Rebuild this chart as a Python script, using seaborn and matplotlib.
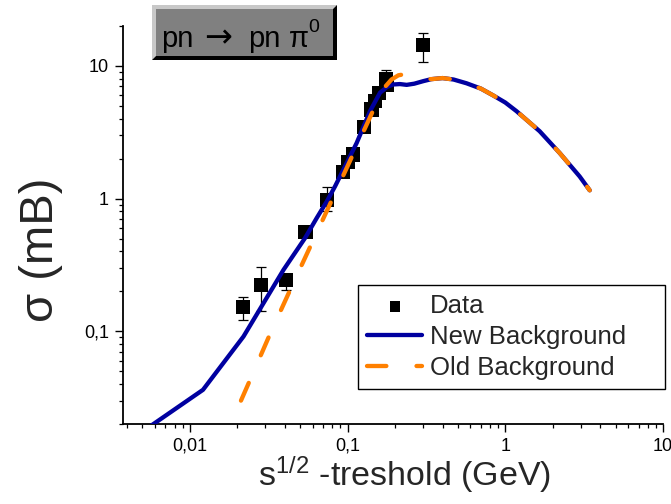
import numpy as np
import pandas as pd
import matplotlib
matplotlib.use("Agg")
import matplotlib.pyplot as plt
import seaborn as sns
from matplotlib.ticker import FixedLocator, LogLocator, FuncFormatter, NullFormatter
from matplotlib.patches import Polygon, Rectangle

# ---------------- data ----------------
data_x = [0.0218, 0.0284, 0.0408, 0.0541, 0.0738, 0.0941, 0.1007, 0.1088,
          0.1277, 0.142, 0.149, 0.159, 0.1745, 0.177, 0.302]
data_y = [0.153, 0.224, 0.242, 0.561, 0.98, 1.58, 1.90, 2.15,
          3.45, 4.70, 5.42, 6.28, 8.0, 7.25, 14.3]
err_up = [0.028, 0.081, 0.017, 0.0, 0.24, 0.0, 0.0, 0.0,
          0.0, 0.0, 0.0, 0.0, 1.3, 0.0, 3.5]
err_dn = [0.031, 0.081, 0.039, 0.0, 0.18, 0.0, 0.0, 0.0,
          0.0, 0.0, 0.0, 0.0, 1.0, 0.0, 3.5]

new_x = [0.0050, 0.01212, 0.0219, 0.0393, 0.0538, 0.0638, 0.0738, 0.0834,
         0.1143, 0.1388, 0.1606, 0.178, 0.195, 0.215, 0.237, 0.265, 0.302,
         0.34, 0.40, 0.47, 0.568, 0.70, 0.837, 1.0, 1.178, 1.652, 2.21,
         2.96, 3.43]
new_y = [0.0175, 0.0362, 0.0914, 0.291, 0.505, 0.715, 0.95, 1.24,
         2.63, 4.56, 6.28, 6.95, 7.25, 7.3, 7.2, 7.35, 7.68,
         7.95, 8.1, 7.9, 7.4, 6.75, 6.0, 5.3, 4.56, 3.22, 2.21,
         1.47, 1.155]

old_x = [0.0211, 0.0241, 0.0323, 0.0443, 0.0608, 0.0834, 0.1143, 0.153,
         0.17, 0.19, 0.21, 0.235, 0.26, 0.29, 0.34, 0.40, 0.47, 0.568,
         0.70, 0.837, 1.0, 1.178, 1.652, 2.21, 2.96, 3.43]
old_y = [0.030, 0.043, 0.0957, 0.218, 0.49, 1.10, 2.48, 5.28,
         6.8, 7.9, 8.5, 8.7, 8.55, 8.15, 7.95, 8.1, 7.9, 7.4,
         6.75, 6.0, 5.3, 4.56, 3.22, 2.21, 1.47, 1.155]

x_ticks = [0.01, 0.1, 1, 10]
y_ticks = [0.1, 1, 10]

# ---------------- style ----------------
sns.set_style("ticks")
plt.rcParams["font.family"] = ["Liberation Sans", "DejaVu Sans"]
plt.rcParams["mathtext.fontset"] = "custom"
plt.rcParams["mathtext.rm"] = "Liberation Sans"
plt.rcParams["mathtext.it"] = "Liberation Sans:italic"
plt.rcParams["mathtext.bf"] = "Liberation Sans:bold"

W, H = 671, 504
fig = plt.figure(figsize=(W / 100, H / 100), dpi=100)
fig.patch.set_facecolor("white")
ax = fig.add_axes([123 / W, 1 - 424 / H, (663 - 123) / W, (424 - 26) / H])

BLUE = "#0000A0"
ORANGE = "#FF8000"

ax.errorbar(data_x, data_y, yerr=[err_dn, err_up], fmt="none",
            ecolor="black", elinewidth=0.9, capsize=3.3, capthick=0.9, zorder=2)
sns.scatterplot(x=data_x, y=data_y, marker="s", s=105, color="black",
                edgecolor="none", ax=ax, zorder=3, label="Data")
sns.lineplot(x=new_x, y=new_y, sort=False, estimator=None, color=BLUE,
             linewidth=3.1, ax=ax, zorder=4, label="New Background")
sns.lineplot(x=old_x, y=old_y, sort=False, estimator=None, color=ORANGE,
             linewidth=3.1, ax=ax, zorder=5, label="Old Background",
             linestyle=(0, (4.5, 7.0)), dash_capstyle="round")
for ln in ax.get_lines():
    ln.set_solid_capstyle("round")
    ln.set_dash_capstyle("round")

ax.set_xscale("log")
ax.set_yscale("log")
ax.set_xlim(0.00377, 10)
ax.set_ylim(0.02, 20)

def comma_fmt(v, pos):
    return f"{v:g}".replace(".", ",")

ax.xaxis.set_major_locator(FixedLocator(x_ticks))
ax.yaxis.set_major_locator(FixedLocator(y_ticks))
ax.xaxis.set_major_formatter(FuncFormatter(comma_fmt))
ax.yaxis.set_major_formatter(FuncFormatter(comma_fmt))
ax.xaxis.set_minor_locator(LogLocator(base=10, subs=np.arange(2, 10), numticks=20))
ax.yaxis.set_minor_locator(LogLocator(base=10, subs=np.arange(2, 10), numticks=20))
ax.xaxis.set_minor_formatter(NullFormatter())
ax.yaxis.set_minor_formatter(NullFormatter())
ax.tick_params(which="major", direction="out", length=6, width=1.0,
               labelsize=13, color="black", labelcolor="black", pad=4)
ax.tick_params(which="minor", direction="out", length=3.2, width=0.9, color="black")

for s in ["top", "right"]:
    ax.spines[s].set_visible(False)
for s in ["left", "bottom"]:
    ax.spines[s].set_color("black")
    ax.spines[s].set_linewidth(1.3)

ax.set_xlabel(r"s$^{\mathregular{1/2}}$ -treshold (GeV)", fontsize=24.5)
ax.set_ylabel("σ (mB)", fontsize=34)
ax.xaxis.label.set_va("top")
ax.xaxis.set_label_coords(0.522, -0.076)
ax.yaxis.label.set_ha("center")
ax.yaxis.label.set_va("center")
ax.yaxis.set_label_coords(-0.152, 0.437)

# legend
handles, labels = ax.get_legend_handles_labels()
order = [labels.index("Data"), labels.index("New Background"), labels.index("Old Background")]
leg = ax.legend([handles[i] for i in order], [labels[i] for i in order],
                loc="upper left",
                bbox_to_anchor=(358 / W, 1 - 285 / H, (665 - 358) / W, 0.0),
                bbox_transform=fig.transFigure, mode="expand",
                fontsize=18.5, frameon=True, fancybox=False, framealpha=1,
                edgecolor="black", borderpad=0.36, handlelength=2.15,
                handletextpad=0.3, labelspacing=0.27, borderaxespad=0,
                markerscale=0.75)
leg.get_frame().set_linewidth(1.0)

# title box with bevel
def P(px, py):
    return (px / W, 1 - py / H)

x0, y0, x1, y1 = 152, 5, 337, 60
b = 4
light = Polygon([P(x0, y1), P(x0, y0), P(x1, y0), P(x1 - b, y0 + b),
                 P(x0 + b, y0 + b), P(x0 + b, y1 - b)], closed=True,
                transform=fig.transFigure, facecolor="#C8C8C8", edgecolor="none")
dark = Polygon([P(x0, y1), P(x1, y1), P(x1, y0), P(x1 - b, y0 + b),
                P(x1 - b, y1 - b), P(x0 + b, y1 - b)], closed=True,
               transform=fig.transFigure, facecolor="black", edgecolor="none")
mid = Rectangle(P(x0 + b, y1 - b), (x1 - x0 - 2 * b) / W, (y1 - y0 - 2 * b) / H,
                transform=fig.transFigure, facecolor="#808080", edgecolor="none")
for p in (light, dark, mid):
    fig.patches.append(p)
fig.text(161 / W, 1 - 47 / H, "pn", fontsize=21, color="black",
         ha="left", va="baseline")
fig.text(204 / W, 1 - 47 / H, "→", fontsize=24, color="black",
         ha="left", va="baseline", family=["DejaVu Sans"])
fig.text(248 / W, 1 - 47 / H, "pn", fontsize=21, color="black",
         ha="left", va="baseline")
fig.text(289 / W, 1 - 47 / H, "π", fontsize=21, color="black",
         ha="left", va="baseline")
fig.text(308 / W, 1 - 32 / H, "0", fontsize=14, color="black",
         ha="left", va="baseline")

fig.savefig("out.png", dpi=100)
